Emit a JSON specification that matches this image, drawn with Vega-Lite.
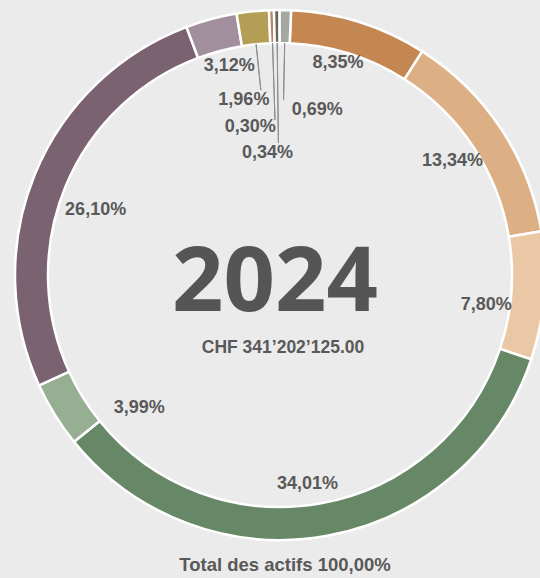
{
  "$schema": "https://vega.github.io/schema/vega-lite/v6.json",
  "width": 520,
  "height": 550,
  "autosize": "none",
  "padding": {"left": 20, "top": 0, "right": 0, "bottom": 28},
  "background": "#EBEBEB",
  "config": {"view": {"stroke": null}, "font": "Liberation Sans"},
  "title": {"text": "Total des actifs 100,00%", "orient": "bottom", "anchor": "middle", "offset": 6, "dx": 5, "font": "Liberation Sans", "fontSize": 18.5, "fontWeight": "bold", "color": "#595959"},
  "data": {"values": [
    {"label": "8,35%", "value": 8.35, "rank": 1},
    {"label": "13,34%", "value": 13.34, "rank": 2},
    {"label": "7,80%", "value": 7.80, "rank": 3},
    {"label": "34,01%", "value": 34.01, "rank": 4},
    {"label": "3,99%", "value": 3.99, "rank": 5},
    {"label": "26,10%", "value": 26.10, "rank": 6},
    {"label": "3,12%", "value": 3.12, "rank": 7},
    {"label": "1,96%", "value": 1.96, "rank": 8},
    {"label": "0,30%", "value": 0.30, "rank": 9},
    {"label": "0,34%", "value": 0.34, "rank": 10},
    {"label": "0,69%", "value": 0.69, "rank": 11}
  ]},
  "layer": [
    {
      "encoding": {
        "theta": {"field": "value", "type": "quantitative", "stack": true, "scale": {"range": [0.0419, 6.3251]}},
        "order": {"field": "rank", "type": "quantitative"}
      },
      "layer": [
        {
          "mark": {"type": "arc", "radius": 265, "radius2": 232, "stroke": "white", "strokeWidth": 2.5},
          "encoding": {
            "color": {"field": "label", "type": "nominal", "legend": null,
              "scale": {
                "domain": ["8,35%", "13,34%", "7,80%", "34,01%", "3,99%", "26,10%", "3,12%", "1,96%", "0,30%", "0,34%", "0,69%"],
                "range": ["#C48752", "#DCAF84", "#EAC8A5", "#678866", "#96AE92", "#7A6270", "#A28F9D", "#B49D54", "#C2805F", "#66665E", "#A6A6A2"]
              }}
          }
        },
        {
          "mark": {"type": "arc", "radius": 232, "radius2": 186, "padAngle": 0.4, "fillOpacity": 0, "stroke": "#8C8C8C", "strokeWidth": 1},
          "encoding": {"strokeOpacity": {"condition": {"test": "datum.label === '1,96%'", "value": 1}, "value": 0}}
        },
        {
          "mark": {"type": "arc", "radius": 232, "radius2": 155, "padAngle": 0.4, "fillOpacity": 0, "stroke": "#8C8C8C", "strokeWidth": 1},
          "encoding": {"strokeOpacity": {"condition": {"test": "datum.label === '0,30%'", "value": 1}, "value": 0}}
        },
        {
          "mark": {"type": "arc", "radius": 232, "radius2": 132, "padAngle": 0.4, "fillOpacity": 0, "stroke": "#8C8C8C", "strokeWidth": 1},
          "encoding": {"strokeOpacity": {"condition": {"test": "datum.label === '0,34%'", "value": 1}, "value": 0}}
        },
        {
          "mark": {"type": "arc", "radius": 232, "radius2": 175, "padAngle": 0.4, "fillOpacity": 0, "stroke": "#8C8C8C", "strokeWidth": 1},
          "encoding": {"strokeOpacity": {"condition": {"test": "datum.label === '0,69%'", "value": 1}, "value": 0}}
        },
        {
          "mark": {"type": "text", "radius": 220, "dx": -8, "dy": -2, "fontSize": 18, "fontWeight": "bold", "color": "#595959", "align": "center", "baseline": "middle"},
          "encoding": {"text": {"condition": {"test": "datum.label === '8,35%'", "field": "label"}, "value": ""}}
        },
        {
          "mark": {"type": "text", "radius": 207, "dx": 0, "dy": 0, "fontSize": 18, "fontWeight": "bold", "color": "#595959", "align": "center", "baseline": "middle"},
          "encoding": {"text": {"condition": {"test": "datum.label === '13,34%'", "field": "label"}, "value": ""}}
        },
        {
          "mark": {"type": "text", "radius": 208, "dx": -1, "dy": 14, "fontSize": 18, "fontWeight": "bold", "color": "#595959", "align": "center", "baseline": "middle"},
          "encoding": {"text": {"condition": {"test": "datum.label === '7,80%'", "field": "label"}, "value": ""}}
        },
        {
          "mark": {"type": "text", "radius": 212, "dx": -10, "dy": 0, "fontSize": 18, "fontWeight": "bold", "color": "#595959", "align": "center", "baseline": "middle"},
          "encoding": {"text": {"condition": {"test": "datum.label === '34,01%'", "field": "label"}, "value": ""}}
        },
        {
          "mark": {"type": "text", "radius": 194, "dx": 24, "dy": 31, "fontSize": 18, "fontWeight": "bold", "color": "#595959", "align": "center", "baseline": "middle"},
          "encoding": {"text": {"condition": {"test": "datum.label === '3,99%'", "field": "label"}, "value": ""}}
        },
        {
          "mark": {"type": "text", "radius": 195, "dx": -4, "dy": 9, "fontSize": 18, "fontWeight": "bold", "color": "#595959", "align": "center", "baseline": "middle"},
          "encoding": {"text": {"condition": {"test": "datum.label === '26,10%'", "field": "label"}, "value": ""}}
        },
        {
          "mark": {"type": "text", "radius": 215, "dx": 5, "dy": -1, "fontSize": 18, "fontWeight": "bold", "color": "#595959", "align": "center", "baseline": "middle"},
          "encoding": {"text": {"condition": {"test": "datum.label === '3,12%'", "field": "label"}, "value": ""}}
        },
        {
          "mark": {"type": "text", "radius": 176, "dx": -18, "dy": 0, "fontSize": 18, "fontWeight": "bold", "color": "#595959", "align": "center", "baseline": "middle"},
          "encoding": {"text": {"condition": {"test": "datum.label === '1,96%'", "field": "label"}, "value": ""}}
        },
        {
          "mark": {"type": "text", "radius": 148, "dx": -25, "dy": 0, "fontSize": 18, "fontWeight": "bold", "color": "#595959", "align": "center", "baseline": "middle"},
          "encoding": {"text": {"condition": {"test": "datum.label === '0,30%'", "field": "label"}, "value": ""}}
        },
        {
          "mark": {"type": "text", "radius": 122, "dx": -11, "dy": 0, "fontSize": 18, "fontWeight": "bold", "color": "#595959", "align": "center", "baseline": "middle"},
          "encoding": {"text": {"condition": {"test": "datum.label === '0,34%'", "field": "label"}, "value": ""}}
        },
        {
          "mark": {"type": "text", "radius": 165, "dx": 34, "dy": 0, "fontSize": 18, "fontWeight": "bold", "color": "#595959", "align": "center", "baseline": "middle"},
          "encoding": {"text": {"condition": {"test": "datum.label === '0,69%'", "field": "label"}, "value": ""}}
        }
      ]
    },
    {
      "data": {"values": [{"year": "2024", "total": "CHF 341’202’125.00"}]},
      "layer": [
        {
          "mark": {"type": "text", "font": "Open Sans", "fontSize": 90, "fontWeight": "bold", "color": "#555555", "align": "center", "baseline": "alphabetic", "dx": -5, "dy": 36},
          "encoding": {"text": {"field": "year"}}
        },
        {
          "mark": {"type": "text", "font": "Liberation Sans", "fontSize": 17.5, "fontWeight": "bold", "color": "#595959", "align": "center", "baseline": "alphabetic", "dx": 3, "dy": 78},
          "encoding": {"text": {"field": "total"}}
        }
      ]
    }
  ]
}
